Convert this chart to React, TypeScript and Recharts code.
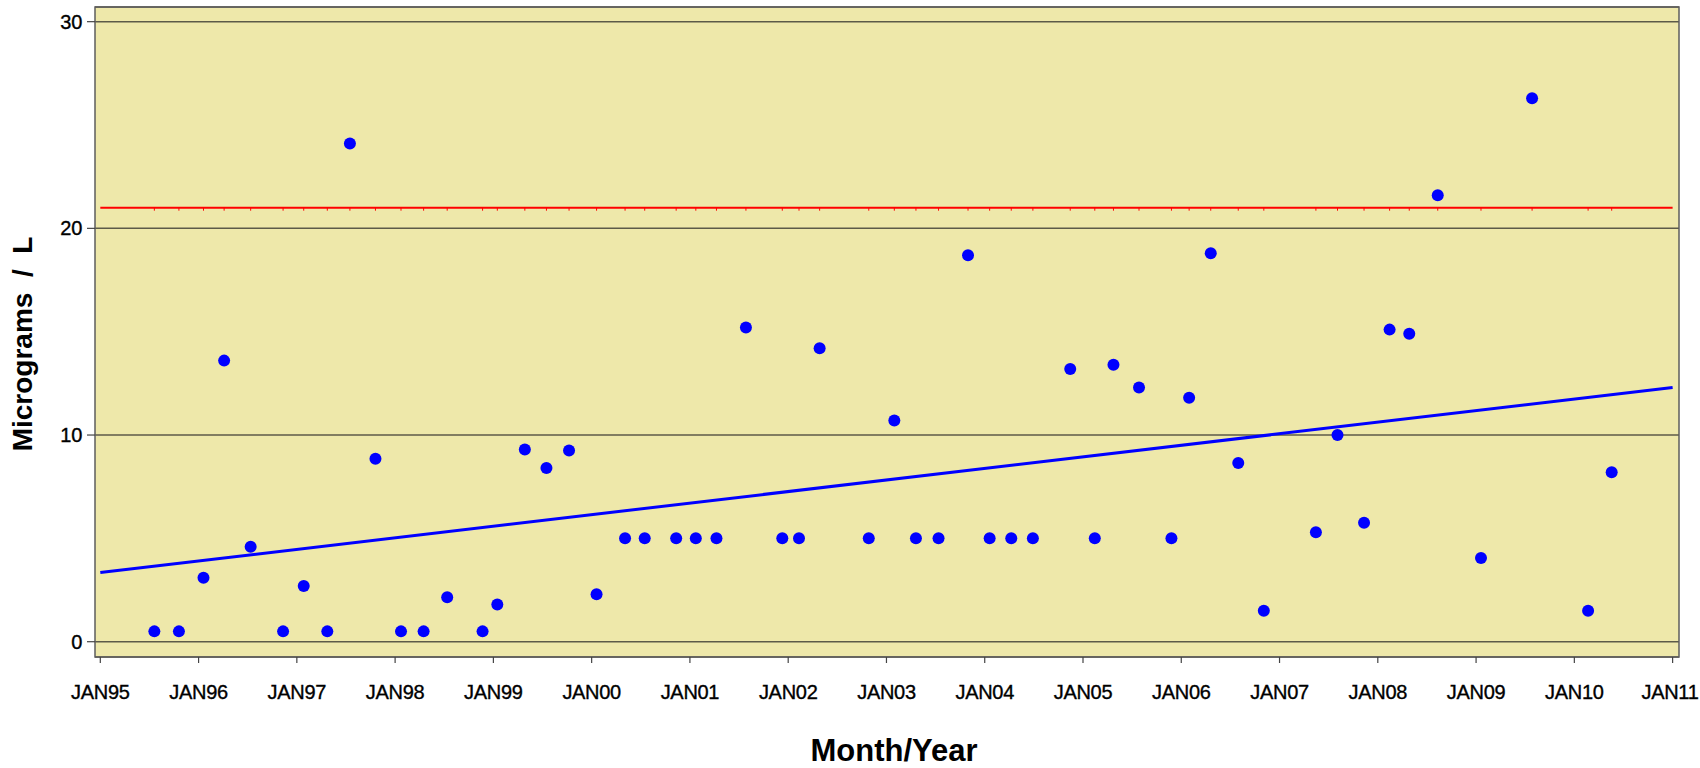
import React from 'react';
import { ComposedChart, Scatter, Line, XAxis, YAxis, CartesianGrid, ReferenceArea, Label } from 'recharts';

// Sample dates (decimal years) and measured values (Micrograms / L)
const sampleDates = [
  1995.55, 1995.80, 1996.05, 1996.26, 1996.53, 1996.86, 1997.07, 1997.31, 1997.54, 1997.80,
  1998.06, 1998.29, 1998.53, 1998.89, 1999.04, 1999.32, 1999.54, 1999.77, 2000.05, 2000.34,
  2000.54, 2000.86, 2001.06, 2001.27, 2001.57, 2001.94, 2002.11, 2002.32, 2002.82, 2003.08,
  2003.30, 2003.53, 2003.83, 2004.05, 2004.27, 2004.49, 2004.87, 2005.12, 2005.31, 2005.57,
  2005.90, 2006.08, 2006.30, 2006.58, 2006.84, 2007.37, 2007.59, 2007.86, 2008.12, 2008.32,
  2008.61, 2009.05, 2009.57, 2010.14, 2010.38,
];
const sampleValues = [
  0.5, 0.5, 3.1, 13.6, 4.6, 0.5, 2.7, 0.5, 24.1, 8.85,
  0.5, 0.5, 2.15, 0.5, 1.8, 9.3, 8.4, 9.25, 2.3, 5,
  5, 5, 5, 5, 15.2, 5, 5, 14.2, 5, 10.7,
  5, 5, 18.7, 5, 5, 5, 13.2, 5, 13.4, 12.3,
  5, 11.8, 18.8, 8.65, 1.5, 5.3, 10, 5.76, 15.1, 14.9,
  21.6, 4.05, 26.3, 1.5, 8.2,
];

// Limit line and trend line
const limitValue = 21;
const lineStart = 1995;
const lineEnd = 2011;
const trendStartValue = 3.35;
const trendEndValue = 12.3;

// Axes
const xTicks = [1995, 1996, 1997, 1998, 1999, 2000, 2001, 2002, 2003, 2004, 2005, 2006, 2007, 2008, 2009, 2010, 2011];
const xTickLabels = ['JAN95', 'JAN96', 'JAN97', 'JAN98', 'JAN99', 'JAN00', 'JAN01', 'JAN02', 'JAN03', 'JAN04', 'JAN05', 'JAN06', 'JAN07', 'JAN08', 'JAN09', 'JAN10', 'JAN11'];
const yTicks = [0, 10, 20, 30];
const xDomain: [number, number] = [1994.946, 2011.065];
const yDomain: [number, number] = [-0.74, 30.71];

const CHART_W = 1700;
const CHART_H = 768;

const points = sampleDates.map((x, i) => ({ x, y: sampleValues[i] }));
const limitLine = [lineStart, ...sampleDates, lineEnd].map((x, i, arr) => ({
  x,
  y: limitValue,
  sample: i > 0 && i < arr.length - 1,
}));
const trendLine = [
  { x: lineStart, y: trendStartValue },
  { x: lineEnd, y: trendEndValue },
];

const FONT = '"Liberation Sans", Arial, Helvetica, sans-serif';

const Dot = (props: any) => {
  const { cx, cy } = props;
  if (cx == null || cy == null) return <g />;
  return <circle cx={cx} cy={cy} r={6} fill="#0000ff" />;
};

const LimitTick = (props: any) => {
  const { cx, cy, payload, index } = props;
  if (!payload || !payload.sample || cx == null) return <g key={`lt-${index}`} />;
  return <line key={`lt-${index}`} x1={cx} x2={cx} y1={cy} y2={cy + 3} stroke="#ff0000" strokeWidth={1} />;
};

const XTick = (props: any) => {
  const { x, y, payload } = props;
  const label = xTickLabels[xTicks.indexOf(payload.value)] ?? '';
  const halfW = 29;
  const shift = Math.min(0, CHART_W - 1 - (x + halfW));
  return (
    <text
      x={x + shift}
      y={y + 14}
      textAnchor="middle"
      fontFamily={FONT}
      fontSize={20}
      letterSpacing={-0.3}
      fill="#000"
      stroke="#000"
      strokeWidth={0.35}
    >
      {label}
    </text>
  );
};

const YTick = (props: any) => {
  const { x, y, payload } = props;
  return (
    <text
      x={x}
      y={y}
      textAnchor="end"
      dominantBaseline="central"
      fontFamily={FONT}
      fontSize={20}
      letterSpacing={-0.3}
      fill="#000"
      stroke="#000"
      strokeWidth={0.35}
    >
      {payload.value}
    </text>
  );
};

const YTitle = (props: any) => {
  const vb = props.viewBox || { x: 0, y: 0, width: 0, height: 0 };
  const cx = vb.x + 7;
  const cy = vb.y + vb.height / 2 + 12;
  return (
    <text
      x={cx}
      y={cy}
      transform={`rotate(-90, ${cx}, ${cy})`}
      textAnchor="middle"
      dominantBaseline="central"
      fontFamily={FONT}
      fontWeight="bold"
      fontSize={28}
      fill="#000"
      style={{ whiteSpace: 'pre' }}
    >
      {'Micrograms  /  L'}
    </text>
  );
};

const XTitle = (props: any) => {
  const vb = props.viewBox || { x: 0, y: 0, width: 0, height: 0 };
  const cx = vb.x + vb.width / 2 + 7;
  const by = vb.y + vb.height + 44;
  return (
    <text x={cx} y={by} textAnchor="middle" fontFamily={FONT} fontWeight="bold" fontSize={31} fill="#000">
      Month/Year
    </text>
  );
};

export default function App() {
  return (
    <div style={{ position: 'absolute', left: 0, top: 0, width: CHART_W, height: CHART_H, background: '#fff' }}>
      <ComposedChart
        width={CHART_W}
        height={CHART_H}
        margin={{ top: 7, right: 21, bottom: 51, left: 15 }}
        style={{ fontFamily: FONT }}
      >
        <CartesianGrid
          vertical={false}
          fill="#EEE8AA"
          fillOpacity={1}
          stroke="#5c5a48"
          strokeWidth={1.5}
        />
        <XAxis
          type="number"
          dataKey="x"
          domain={xDomain}
          ticks={xTicks}
          allowDataOverflow
          interval={0}
          tickSize={6}
          tickMargin={22}
          axisLine={false}
          tickLine={{ stroke: '#444', strokeWidth: 1.2 }}
          tick={<XTick />}
          height={60}
        >
          <Label content={<XTitle />} />
        </XAxis>
        <YAxis
          type="number"
          dataKey="y"
          domain={yDomain}
          ticks={yTicks}
          allowDataOverflow
          interval={0}
          tickSize={8}
          tickMargin={5}
          axisLine={false}
          tickLine={{ stroke: '#444', strokeWidth: 1.2 }}
          tick={<YTick />}
          width={80}
        >
          <Label content={<YTitle />} />
        </YAxis>
        <ReferenceArea
          x1={xDomain[0]}
          x2={xDomain[1]}
          y1={yDomain[0]}
          y2={yDomain[1]}
          fill="none"
          fillOpacity={0}
          stroke="#5e5e5e"
          strokeWidth={1.5}
          ifOverflow="visible"
        />
        <Line
          data={limitLine}
          dataKey="y"
          stroke="#ff0000"
          strokeWidth={2}
          dot={<LimitTick />}
          activeDot={false}
          isAnimationActive={false}
          legendType="none"
        />
        <Line
          data={trendLine}
          dataKey="y"
          stroke="#0000ff"
          strokeWidth={3}
          dot={false}
          activeDot={false}
          isAnimationActive={false}
          legendType="none"
        />
        <Scatter data={points} dataKey="y" shape={<Dot />} isAnimationActive={false} />
      </ComposedChart>
    </div>
  );
}
